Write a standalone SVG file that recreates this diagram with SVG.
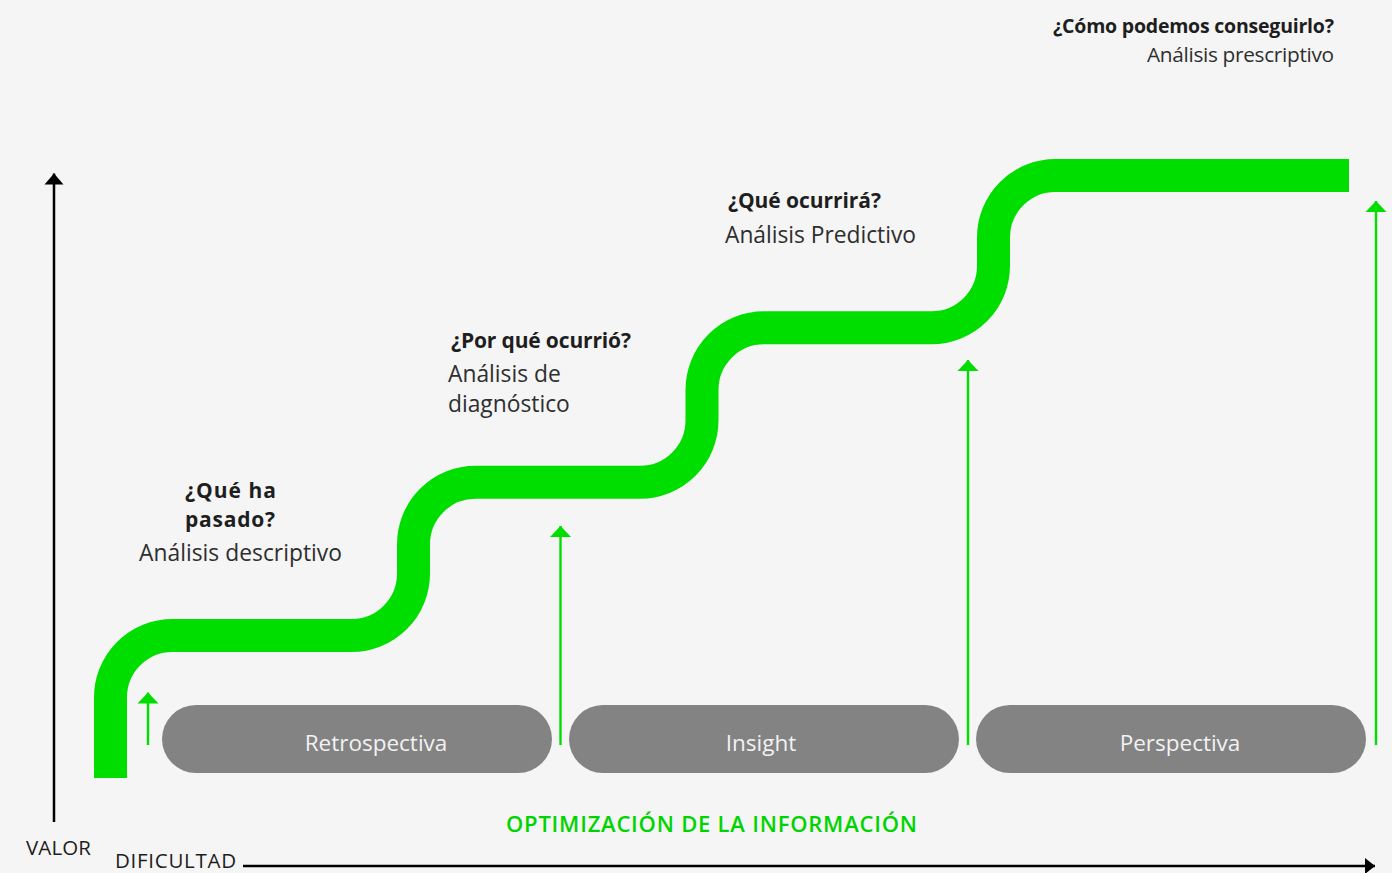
<svg xmlns="http://www.w3.org/2000/svg" width="1392" height="873" viewBox="0 0 1392 873">
  <style>
    .bg { fill: #f5f5f5; }
    .stair { fill: none; stroke: #00de00; stroke-width: 33; stroke-linecap: butt; stroke-linejoin: round; }
    .axis { stroke: #000; stroke-width: 2.5; fill: none; }
    .rise { stroke: #00de00; stroke-width: 2.4; fill: none; }
    .pill { fill: #838383; }
    .pill-label { font-family: "Open Sans", "Liberation Sans", sans-serif; font-size: 22.5px; fill: #f2f2f2; text-anchor: middle; }
    .q { font-family: "Open Sans", "Liberation Sans", sans-serif; font-weight: 700; font-size: 21px; fill: #1e1e1e; }
    .a { font-family: "Open Sans", "Liberation Sans", sans-serif; font-size: 22.8px; fill: #2e2e2e; }
    .axis-label { font-family: "Open Sans", "Liberation Sans", sans-serif; font-size: 20.5px; fill: #1e1e1e; }
    .opt { font-family: "Open Sans", "Liberation Sans", sans-serif; font-weight: 600; font-size: 22px; fill: #00d400; }
  </style>
  <defs>
    <marker id="head-black-up" markerUnits="userSpaceOnUse" markerWidth="12" markerHeight="20" refX="11" refY="9.5" orient="auto" overflow="visible">
      <path d="M0,0 L11,9.5 L0,19 Z" fill="#000"/>
    </marker>
    <marker id="head-black-right" markerUnits="userSpaceOnUse" markerWidth="11" markerHeight="17" refX="10" refY="8" orient="auto" overflow="visible">
      <path d="M0,0 L10,8 L0,16 Z" fill="#000"/>
    </marker>
    <marker id="head-green" markerUnits="userSpaceOnUse" markerWidth="12" markerHeight="22" refX="11" refY="10.5" orient="auto" overflow="visible">
      <path d="M0,0 L11,10.5 L0,21 Z" fill="#00de00"/>
    </marker>
  </defs>

  <rect class="bg" x="0" y="0" width="1392" height="873"/>

  <!-- staircase band -->
  <g id="staircase">
    <path class="stair" d="M110.5,778 V697.5 A62,62 0 0 1 172.5,635.5 H351.5 A62,62 0 0 0 413.5,573.5 V544.3 A62,62 0 0 1 475.5,482.3 H640 A62,62 0 0 0 702,420.3 V389.8 A62,62 0 0 1 764,327.8 H931.5 A62,62 0 0 0 993.5,265.8 V237.5 A62,62 0 0 1 1055.5,175.5 H1349"/>
  </g>

  <!-- axes and rising arrows -->
  <g id="connectors">
    <line class="axis" x1="54" y1="822" x2="54" y2="173.5" marker-end="url(#head-black-up)"/>
    <line class="axis" x1="243" y1="866" x2="1375" y2="866" marker-end="url(#head-black-right)"/>
    <line class="rise" x1="148" y1="745" x2="148" y2="692.5" marker-end="url(#head-green)"/>
    <line class="rise" x1="560.5" y1="745" x2="560.5" y2="526" marker-end="url(#head-green)"/>
    <line class="rise" x1="968" y1="745" x2="968" y2="360" marker-end="url(#head-green)"/>
    <line class="rise" x1="1376" y1="745" x2="1376" y2="201" marker-end="url(#head-green)"/>
  </g>

  <g id="retrospectiva">
    <rect class="pill" x="162" y="705" width="390" height="68" rx="34"/>
    <text class="pill-label" x="376" y="751">Retrospectiva</text>
  </g>
  <g id="insight">
    <rect class="pill" x="569" y="705" width="390" height="68" rx="34"/>
    <text class="pill-label" x="761" y="751">Insight</text>
  </g>
  <g id="perspectiva">
    <rect class="pill" x="976" y="705" width="390" height="68" rx="34"/>
    <text class="pill-label" x="1180" y="751">Perspectiva</text>
  </g>

  <g id="descriptivo">
    <text class="q" x="185" y="498" textLength="91">¿Qué ha</text>
    <text class="q" x="185" y="527" textLength="90">pasado?</text>
    <text class="a" x="139" y="561" textLength="203">Análisis descriptivo</text>
  </g>
  <g id="diagnostico">
    <text class="q" x="451" y="348" textLength="180">¿Por qué ocurrió?</text>
    <text class="a" x="448" y="382">Análisis de</text>
    <text class="a" x="448" y="412">diagnóstico</text>
  </g>
  <g id="predictivo">
    <text class="q" x="728" y="208" textLength="153">¿Qué ocurrirá?</text>
    <text class="a" x="725" y="243" textLength="191">Análisis Predictivo</text>
  </g>
  <g id="prescriptivo">
    <text class="q" x="1053" y="33" textLength="281" style="font-size:19.5px">¿Cómo podemos conseguirlo?</text>
    <text class="a" x="1147" y="62" textLength="187" style="font-size:20.8px">Análisis prescriptivo</text>
  </g>

  <g id="axis-labels">
    <text class="axis-label" x="26" y="855" textLength="65">VALOR</text>
    <text class="axis-label" x="115" y="868" textLength="121">DIFICULTAD</text>
    <text class="opt" x="506" y="832" textLength="411">OPTIMIZACIÓN DE LA INFORMACIÓN</text>
  </g>
</svg>
